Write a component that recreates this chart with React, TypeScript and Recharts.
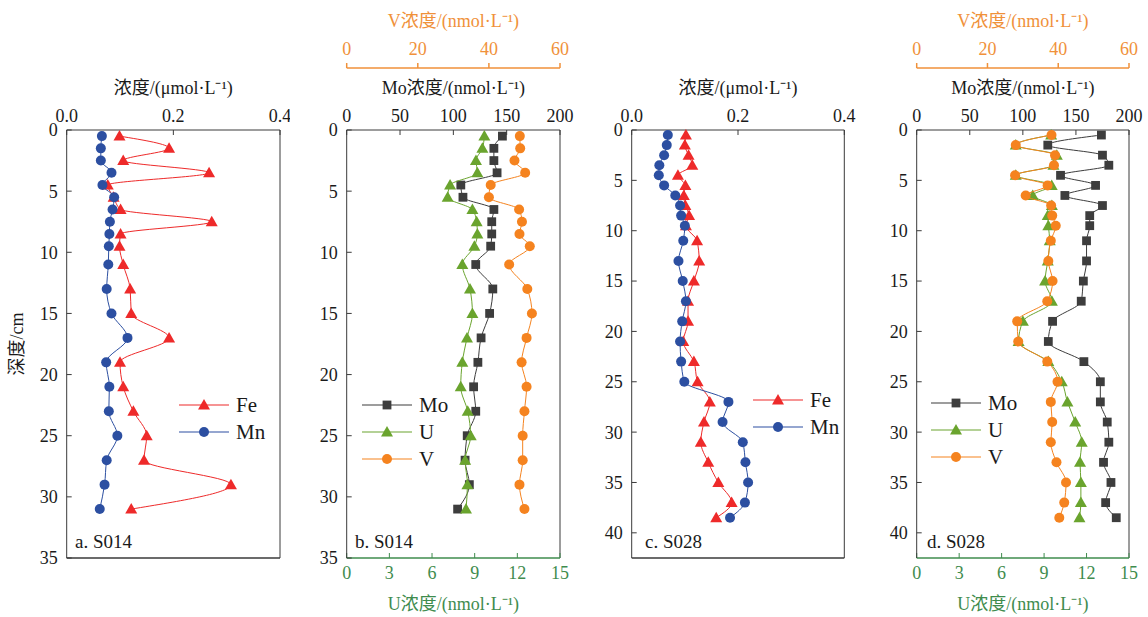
import { ScatterChart, Scatter, XAxis, YAxis, ReferenceLine, Legend } from 'recharts'

// depth (cm) of each sample
const depthS014 = [0.5, 1.5, 2.5, 3.5, 4.5, 5.5, 6.5, 7.5, 8.5, 9.5, 11, 13, 15, 17, 19, 21, 23, 25, 27, 29, 31]
const depthS028 = [0.5, 1.5, 2.5, 3.5, 4.5, 5.5, 6.5, 7.5, 8.5, 9.5, 11, 13, 15, 17, 19, 21, 23, 25, 27, 29, 31, 33, 35, 37, 38.5]

// S014, µmol/L
const feS014 = [0.099, 0.192, 0.106, 0.267, 0.077, 0.088, 0.101, 0.272, 0.101, 0.099, 0.106, 0.119, 0.121, 0.192, 0.1, 0.106, 0.125, 0.15, 0.145, 0.308, 0.121]
const mnS014 = [0.066, 0.064, 0.064, 0.084, 0.067, 0.089, 0.086, 0.081, 0.08, 0.079, 0.078, 0.075, 0.084, 0.114, 0.074, 0.08, 0.079, 0.095, 0.075, 0.071, 0.062]
// S014, nmol/L
const moS014 = [146, 138, 138, 141, 107, 109, 138, 136, 136, 135, 121, 137, 134, 126, 123, 119, 121, 113, 111, 115, 104]
const uS014 = [9.68, 9.54, 9.09, 9.19, 7.27, 7.1, 8.84, 9.14, 9.19, 8.98, 8.13, 8.67, 8.84, 8.46, 8.13, 8.02, 8.51, 8.72, 8.33, 8.49, 8.39]
const vS014 = [48.7, 48.8, 47.2, 50.2, 40.5, 40.0, 48.5, 49.3, 48.6, 51.5, 45.7, 50.8, 52.1, 50.6, 49.2, 50.6, 50.0, 49.5, 49.5, 48.6, 50.0]

// S028, µmol/L
const feS028 = [0.102, 0.1, 0.107, 0.114, 0.087, 0.101, 0.098, 0.101, 0.108, 0.102, 0.123, 0.127, 0.117, 0.106, 0.106, 0.097, 0.117, 0.124, 0.147, 0.136, 0.13, 0.144, 0.163, 0.188, 0.159]
const mnS028 = [0.068, 0.066, 0.061, 0.052, 0.051, 0.061, 0.082, 0.091, 0.093, 0.1, 0.097, 0.088, 0.096, 0.102, 0.095, 0.091, 0.093, 0.099, 0.182, 0.171, 0.209, 0.214, 0.219, 0.213, 0.185]
// S028, nmol/L
const moS028 = [174, 123.5, 175, 181, 135.5, 168.5, 139.6, 175, 163, 163, 160, 160, 157, 155, 128, 124, 157.5, 173, 173, 179.5, 181, 176, 183, 178, 188]
const uS028 = [9.5, 7.0, 9.9, 9.66, 7.0, 9.54, 8.2, 9.55, 9.26, 9.3, 9.4, 9.26, 9.07, 9.55, 7.5, 7.2, 9.3, 10.25, 10.65, 11.2, 11.66, 11.54, 11.6, 11.6, 11.5]
const vS028 = [38.1, 28.0, 39.1, 38.8, 27.8, 37.0, 30.8, 38.0, 38.3, 39.3, 37.9, 37.2, 38.4, 36.9, 28.4, 28.7, 36.9, 39.8, 37.9, 38.3, 37.9, 39.5, 42.2, 41.7, 40.3]

const concTicks = [0, 0.2, 0.4]
const moTicks = [0, 50, 100, 150, 200]
const vTicks = [0, 20, 40, 60]
const uTicks = [0, 3, 6, 9, 12, 15]
const depthTicks35 = [0, 5, 10, 15, 20, 25, 30, 35]
const depthTicks40 = [0, 5, 10, 15, 20, 25, 30, 35, 40]

const FONT = "'Liberation Serif', 'Noto Sans CJK SC', serif"
const INK = '#1a1a1a'
const FRAME = '#3a3a3a'
const RED = '#ee2a2a'
const BLUE = '#2c4fa1'
const GREY = '#3d3d3d'
const GREEN = '#6aa42e'
const ORANGE = '#f5831f'
const V_AXIS = '#f0913a'
const U_AXIS = '#3f8c4e'

type Shape = 'triangle' | 'circle' | 'square'
type Series = { name: string; values: number[]; color: string; shape: Shape; axis: string }

function Marker({ shape, cx, cy, color }: { shape: Shape; cx: number; cy: number; color: string }) {
  if (shape === 'circle') return <circle cx={cx} cy={cy} r={5} fill={color} />
  if (shape === 'square') return <rect x={cx - 4.4} y={cy - 4.4} width={8.8} height={8.8} fill={color} />
  return <path d={`M${cx},${cy - 6}L${cx + 6},${cy + 4.5}L${cx - 6},${cy + 4.5}Z`} fill={color} />
}

const toPoints = (depth: number[], values: number[]) => depth.map((d, i) => ({ depth: d, value: values[i] }))

function LegendBox({ items }: { items: Series[] }) {
  return (
    <div style={{ fontFamily: FONT, fontSize: 21, color: INK, lineHeight: '27px' }}>
      {items.map((s) => (
        <div key={s.name} style={{ display: 'flex', alignItems: 'center', height: 27 }}>
          <svg width={52} height={14}>
            <line x1={1} x2={51} y1={7} y2={7} stroke={s.color} strokeWidth={1.2} />
            <Marker shape={s.shape} cx={26} cy={7} color={s.color} />
          </svg>
          <span style={{ marginLeft: 6 }}>{s.name}</span>
        </div>
      ))}
    </div>
  )
}

const serif = { fontFamily: FONT }
const tickStyle = { fill: INK, fontSize: 18, fontFamily: FONT, style: serif }
const titleStyle = { fill: INK, fontSize: 18, fontFamily: FONT }

type PanelProps = {
  left: number
  width: number
  yWidth: number
  right: number
  depth: number[]
  depthMax: number
  depthTicks: number[]
  series: Series[]
  trace: boolean
  tag: string
  tagLeft: number
  legendLeft: number
  legendTop: number
  depthTitle?: boolean
}

function Panel(p: PanelProps) {
  const H = 617
  return (
    <div style={{ position: 'absolute', left: p.left, top: 0, width: p.width, height: H }}>
      <ScatterChart width={p.width} height={H} style={serif} margin={{ top: p.trace ? 8 : 68, right: p.right, bottom: p.trace ? 0 : 59, left: 0 }}>
        {p.trace ? (
          <>
            <XAxis xAxisId="mo" type="number" dataKey="value" orientation="top" domain={[0, 200]} ticks={moTicks} interval={0} height={62}
              tickSize={-5} tickMargin={13} tick={tickStyle} axisLine={{ stroke: FRAME }} tickLine={{ stroke: FRAME }}
              label={{ value: 'Mo浓度/(nmol·L⁻¹)', position: 'insideTop', offset: 13, ...titleStyle, style: serif }} />
            <XAxis xAxisId="v" type="number" dataKey="value" orientation="top" domain={[0, 60]} ticks={vTicks} interval={0} height={60}
              tickSize={5} tickMargin={8} tick={{ ...tickStyle, fill: V_AXIS }} axisLine={{ stroke: V_AXIS, strokeWidth: 1.5 }} tickLine={{ stroke: V_AXIS, strokeWidth: 1.5 }}
              label={{ value: 'V浓度/(nmol·L⁻¹)', position: 'insideTop', offset: 6, ...titleStyle, fill: V_AXIS, style: serif }} />
            <XAxis xAxisId="u" type="number" dataKey="value" orientation="bottom" domain={[0, 15]} ticks={uTicks} interval={0} height={59}
              tickSize={-5} tickMargin={13} tick={{ ...tickStyle, fill: U_AXIS }} axisLine={{ stroke: U_AXIS, strokeWidth: 1.5 }} tickLine={{ stroke: U_AXIS }}
              label={{ value: 'U浓度/(nmol·L⁻¹)', position: 'insideBottom', offset: 7, ...titleStyle, fill: U_AXIS, style: serif }} />
            <ReferenceLine xAxisId="mo" x={200} stroke={FRAME} />
          </>
        ) : (
          <>
            <XAxis xAxisId="c" type="number" dataKey="value" orientation="top" domain={[0, 0.4]} ticks={concTicks} interval={0} height={62}
              tickFormatter={(v: number) => v.toFixed(1)}
              tickSize={-5} tickMargin={13} tick={tickStyle} axisLine={{ stroke: FRAME }} tickLine={{ stroke: FRAME }}
              label={{ value: '浓度/(μmol·L⁻¹)', position: 'insideTop', offset: 13, ...titleStyle, style: serif }} />
            <ReferenceLine xAxisId="c" x={0.4} stroke={FRAME} />
            <ReferenceLine xAxisId="c" y={p.depthMax} stroke={FRAME} strokeWidth={1.5} />
          </>
        )}
        <YAxis type="number" dataKey="depth" domain={[0, p.depthMax]} ticks={p.depthTicks} interval={0} reversed width={p.yWidth}
          tickSize={-5} tickMargin={14} tick={tickStyle} axisLine={{ stroke: FRAME }} tickLine={{ stroke: FRAME }}
          label={p.depthTitle ? { value: '深度/cm', angle: -90, position: 'insideLeft', offset: 17, ...titleStyle, style: { textAnchor: 'middle', fontFamily: FONT } } : undefined} />
        {p.series.map((s) => (
          <Scatter key={s.name} name={s.name} xAxisId={s.axis} data={toPoints(p.depth, s.values)} fill={s.color}
            line={{ stroke: s.color, strokeWidth: 1 }} lineJointType="monotoneY" isAnimationActive={false}
            shape={(props: any) => <Marker shape={s.shape} cx={props.cx} cy={props.cy} color={s.color} />} />
        ))}
        <Legend layout="vertical" align="center" verticalAlign="middle"
          wrapperStyle={{ left: p.legendLeft, top: p.legendTop, width: 'auto', height: 'auto' }}
          content={() => <LegendBox items={p.series} />} />
      </ScatterChart>
      <div style={{ position: 'absolute', left: p.tagLeft, top: 531, fontFamily: FONT, fontSize: 19, lineHeight: '22px', color: INK }}>{p.tag}</div>
    </div>
  )
}

const metalS014: Series[] = [
  { name: 'Fe', values: feS014, color: RED, shape: 'triangle', axis: 'c' },
  { name: 'Mn', values: mnS014, color: BLUE, shape: 'circle', axis: 'c' },
]
const traceS014: Series[] = [
  { name: 'Mo', values: moS014, color: GREY, shape: 'square', axis: 'mo' },
  { name: 'U', values: uS014, color: GREEN, shape: 'triangle', axis: 'u' },
  { name: 'V', values: vS014, color: ORANGE, shape: 'circle', axis: 'v' },
]
const metalS028: Series[] = [
  { name: 'Fe', values: feS028, color: RED, shape: 'triangle', axis: 'c' },
  { name: 'Mn', values: mnS028, color: BLUE, shape: 'circle', axis: 'c' },
]
const traceS028: Series[] = [
  { name: 'Mo', values: moS028, color: GREY, shape: 'square', axis: 'mo' },
  { name: 'U', values: uS028, color: GREEN, shape: 'triangle', axis: 'u' },
  { name: 'V', values: vS028, color: ORANGE, shape: 'circle', axis: 'v' },
]

export default function App() {
  return (
    <div style={{ position: 'absolute', left: 0, top: 0, width: 1148, height: 617, background: '#fff', overflow: 'hidden', fontFamily: FONT }}>
      <Panel left={0} width={290} yWidth={66.7} right={10} depth={depthS014} depthMax={35} depthTicks={depthTicks35}
        series={metalS014} trace={false} tag="a. S014" tagLeft={75} legendLeft={178} legendTop={391.5} depthTitle />
      <Panel left={290} width={290} yWidth={56.7} right={20} depth={depthS014} depthMax={35} depthTicks={depthTicks35}
        series={traceS014} trace tag="b. S014" tagLeft={65} legendLeft={71} legendTop={391.5} />
      <Panel left={580} width={285} yWidth={51.7} right={20.7} depth={depthS028} depthMax={42.5} depthTicks={depthTicks40}
        series={metalS028} trace={false} tag="c. S028" tagLeft={65} legendLeft={172} legendTop={386.5} />
      <Panel left={865} width={283} yWidth={51.7} right={19} depth={depthS028} depthMax={42.5} depthTicks={depthTicks40}
        series={traceS028} trace tag="d. S028" tagLeft={62} legendLeft={65} legendTop={389.5} />
    </div>
  )
}
